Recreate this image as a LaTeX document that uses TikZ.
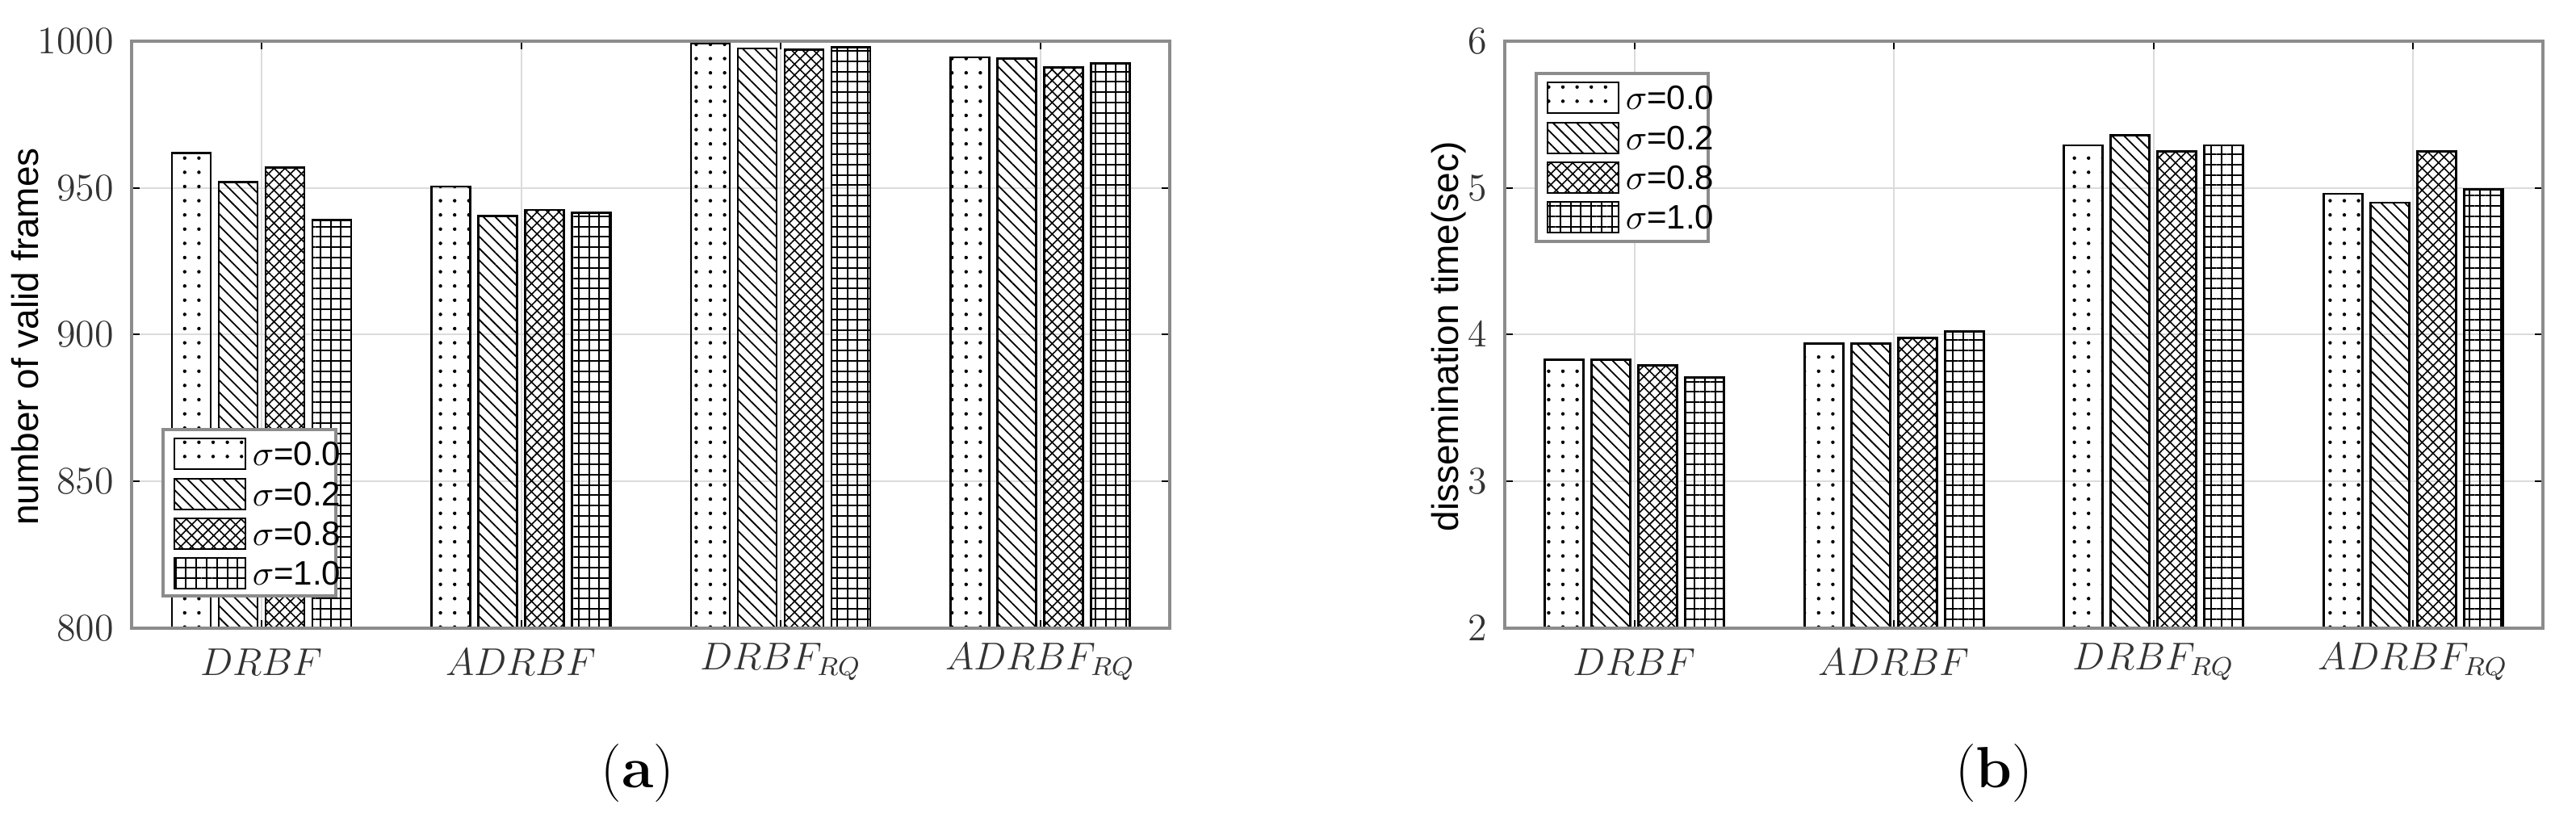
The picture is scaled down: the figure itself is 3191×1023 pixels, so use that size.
\documentclass[tikz,border=0pt]{standalone}
\usepackage{fontspec}
\setsansfont{Liberation Sans}
\usetikzlibrary{patterns.meta}
\tikzset{
  axbox/.style={draw=black!45,line width=1.1pt},
  gridl/.style={draw=black!14,line width=0.5pt},
  tk/.style={draw=black,line width=0.5pt},
  barb/.style={draw=black,line width=0.7pt},
  p0/.style={pattern={Dots[distance=4.4pt,radius=0.55pt]}},
  p1/.style={pattern={Lines[angle=-45,distance=2.6pt,line width=0.45pt]}},
  p2/.style={pattern={Hatch[angle=45,distance=2.4pt,line width=0.4pt]}},
  p3/.style={pattern={Hatch[angle=0,distance=3.2pt,line width=0.5pt]}},
  ticklab/.style={font=\fontsize{12}{12}\selectfont,text=black!80},
  catlab/.style={font=\fontsize{12}{12}\selectfont,text=black!80},
  leglab/.style={font=\sffamily\fontsize{10.5}{10.5}\selectfont,anchor=west,inner sep=1pt},
  ylab/.style={font=\sffamily\fontsize{11.5}{11.5}\selectfont,rotate=90},
  sublab/.style={font=\fontsize{18}{18}\selectfont},
  legbox/.style={draw=black!45,fill=white,line width=1pt}
}
\begin{document}
\begin{tikzpicture}[x=0.25pt,y=-0.25pt]
\useasboundingbox (0,0) rectangle (3191,1023);
% ================= panel (a)
\def\L{163}\def\R{1449}\def\T{51}\def\B{778}
\foreach \v/\yy in {1000/51,950/232.75,900/414.5,850/596.25,800/778}{
  \draw[gridl] (\L,\yy) -- (\R,\yy);
  \draw[tk] (\L,\yy) -- ++(10,0) (\R,\yy) -- ++(-10,0);
  \node[ticklab,anchor=east] (ya\v) at (\L-8,\yy) {$\v$};
}
\foreach \i/\nm in {0/DRBF,1/ADRBF,2/DRBF_{RQ},3/ADRBF_{RQ}}{
  \pgfmathsetmacro\cx{324+321.5*\i}
  \draw[gridl] (\cx,\T) -- (\cx,\B);
  \draw[tk] (\cx,\T) -- ++(0,10) (\cx,\B) -- ++(0,-10);
  \node[catlab] (xa\i) at (\cx,820) {$\nm$};
}
\foreach \i/\a/\b/\c/\d in {0/962/952/957/939,1/950.5/940.5/942.5/941.5,2/999.3/997.5/997/998,3/994.5/994/991/992.5}{
  \pgfmathsetmacro\cx{324+321.5*\i}
  \foreach \k/\val/\off in {0/\a/-87,1/\b/-29,2/\c/29,3/\d/87}{
    \pgfmathsetmacro\yt{778-(\val-800)/200*727}
    \path[p\k] (\cx+\off-24,\B) rectangle (\cx+\off+24,\yt);
    \draw[barb] (\cx+\off-24,\B) rectangle (\cx+\off+24,\yt);
  }
}
\draw[axbox] (\L,\T) rectangle (\R,\B);
\node[ylab] (yla) at (31,417) {number of valid frames};
% legend a
\draw[legbox] (202,532) rectangle (416,738);
\foreach \k/\s/\yy in {0/0.0/562,1/0.2/612,2/0.8/661,3/1.0/710}{
  \path[p\k] (216,\yy-19) rectangle (304,\yy+19);
  \draw[barb] (216,\yy-19) rectangle (304,\yy+19);
  \node[leglab] (lga\k) at (308,\yy) {$\sigma$=\s};
}
\node[sublab] (suba) at (790,958) {(\textbf{a})};
% ================= panel (b)
\def\L{1864}\def\R{3150}
\foreach \v/\yy in {6/51,5/232.75,4/414.5,3/596.25,2/778}{
  \draw[gridl] (\L,\yy) -- (\R,\yy);
  \draw[tk] (\L,\yy) -- ++(10,0) (\R,\yy) -- ++(-10,0);
  \node[ticklab,anchor=east] (yb\v) at (\L-8,\yy) {$\v$};
}
\foreach \i/\nm in {0/DRBF,1/ADRBF,2/DRBF_{RQ},3/ADRBF_{RQ}}{
  \pgfmathsetmacro\cx{2024.75+321.5*\i}
  \draw[gridl] (\cx,\T) -- (\cx,\B);
  \draw[tk] (\cx,\T) -- ++(0,10) (\cx,\B) -- ++(0,-10);
  \node[catlab] (xb\i) at (\cx,820) {$\nm$};
}
\foreach \i/\a/\b/\c/\d in {0/3.83/3.83/3.79/3.71,1/3.94/3.94/3.98/4.02,2/5.29/5.36/5.25/5.29,3/4.96/4.90/5.25/4.99}{
  \pgfmathsetmacro\cx{2024.75+321.5*\i}
  \foreach \k/\val/\off in {0/\a/-87,1/\b/-29,2/\c/29,3/\d/87}{
    \pgfmathsetmacro\yt{778-(\val-2)/4*727}
    \path[p\k] (\cx+\off-24,\B) rectangle (\cx+\off+24,\yt);
    \draw[barb] (\cx+\off-24,\B) rectangle (\cx+\off+24,\yt);
  }
}
\draw[axbox] (\L,\T) rectangle (\R,\B);
\node[ylab] (ylb) at (1795,417) {dissemination time(sec)};
\draw[legbox] (1903,91) rectangle (2116,299);
\foreach \k/\s/\yy in {0/0.0/121,1/0.2/171,2/0.8/220,3/1.0/269}{
  \path[p\k] (1917,\yy-19) rectangle (2005,\yy+19);
  \draw[barb] (1917,\yy-19) rectangle (2005,\yy+19);
  \node[leglab] (lgb\k) at (2009,\yy) {$\sigma$=\s};
}
\node[sublab] (subb) at (2470,958) {(\textbf{b})};
\end{tikzpicture}
\end{document}
